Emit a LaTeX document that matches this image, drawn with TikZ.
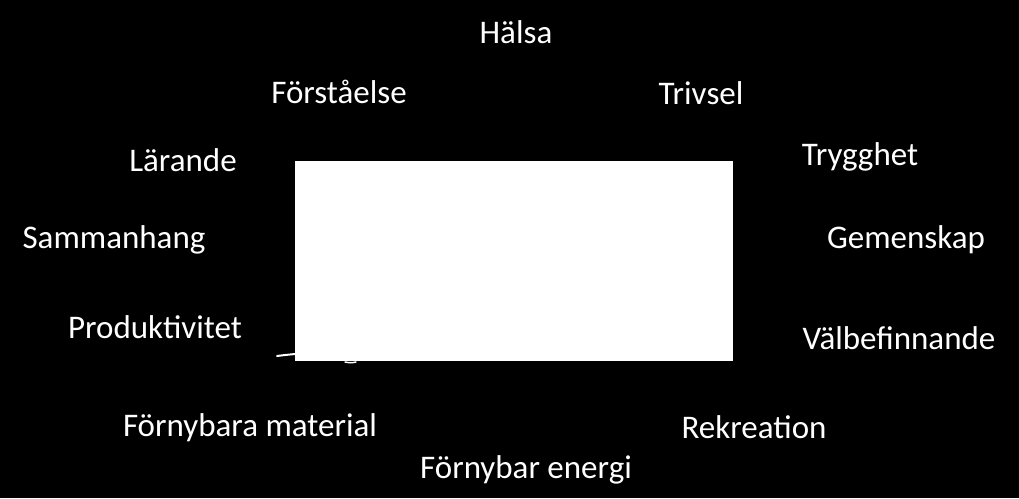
\documentclass[tikz,border=0pt]{standalone}
\usepackage{fontspec}
\setmainfont{Carlito}
\begin{document}
\begin{tikzpicture}[x=1pt,y=-1pt,
  lbl/.style={text=white,font=\fontsize{33}{40}\selectfont,inner sep=0pt,anchor=base}]
\fill[black] (0,0) rectangle (1019,498);
\useasboundingbox (0,0) rectangle (1019,498);
\node[fill=white,minimum width=438pt,minimum height=200pt,inner sep=0pt,anchor=north west] (box) at (295,161) {};
\draw[white,line width=2pt,line cap=round] (277,356) .. controls (285,355) .. (295,354);
\draw[white,line width=1.5pt,line cap=round] (345,362) .. controls (351,363) .. (356,362);
\node[lbl] (halsa) at (516,43) {Hälsa};
\node[lbl] (forst) at (339,103) {Förståelse};
\node[lbl] (trivsel) at (701,104) {Trivsel};
\node[lbl] (larande) at (183,171) {Lärande};
\node[lbl] (trygg) at (860,165) {Trygghet};
\node[lbl] (samman) at (114,248) {Sammanhang};
\node[lbl] (gemen) at (906,248) {Gemenskap};
\node[lbl] (prod) at (155,338) {Produktivitet};
\node[lbl] (valbef) at (899,349) {Välbefinnande};
\node[lbl] (fmat) at (250,436) {Förnybara material};
\node[lbl] (rekr) at (754,438) {Rekreation};
\node[lbl] (fen) at (526,478) {Förnybar energi};
\end{tikzpicture}
\end{document}
